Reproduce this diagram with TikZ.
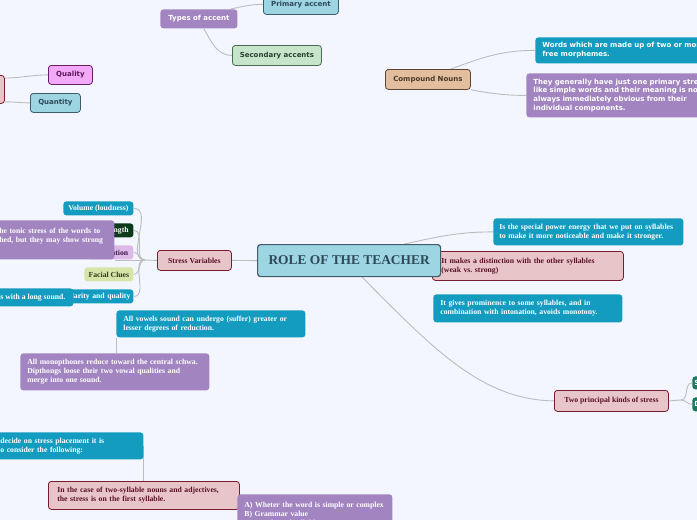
\documentclass[tikz,border=0pt]{standalone}
\usepackage{fontspec}
\setmainfont{Liberation Serif}
\newfontfamily\vsans{DejaVu Sans}
\hyphenpenalty=10000
\exhyphenpenalty=10000
\frenchspacing
\pgfdeclarelayer{background}
\pgfsetlayers{background,main}
\definecolor{bg}{HTML}{F3F6FE}
\definecolor{cteal}{HTML}{139CBF}
\definecolor{cpurp}{HTML}{A285C0}
\definecolor{cpink}{HTML}{E8C5C9}
\definecolor{cpinkd}{HTML}{7A1C30}
\definecolor{cpinkt}{HTML}{5A1024}
\definecolor{clb}{HTML}{9DD5E2}
\definecolor{clbd}{HTML}{3E5C6C}
\definecolor{clbt}{HTML}{2E4858}
\definecolor{cgr}{HTML}{C6E5CA}
\definecolor{cgrd}{HTML}{4C6A52}
\definecolor{cgrt}{HTML}{2A4030}
\definecolor{ctan}{HTML}{E2BE9E}
\definecolor{ctand}{HTML}{5A4633}
\definecolor{ctant}{HTML}{4A3828}
\definecolor{cmag}{HTML}{F2A9F7}
\definecolor{cmagd}{HTML}{6A1C6A}
\definecolor{cmagt}{HTML}{5A165A}
\definecolor{clav}{HTML}{DDB9E7}
\definecolor{clavt}{HTML}{3C1848}
\definecolor{cyg}{HTML}{D8E5A9}
\definecolor{cygt}{HTML}{2E3A1A}
\definecolor{cdg}{HTML}{0C3A1B}
\definecolor{ctg}{HTML}{177A5F}
\definecolor{cline}{HTML}{BDBDBD}
\begin{document}
\begin{tikzpicture}[x=1pt,y=-1pt,
  conn/.style={draw=cline, line width=0.9pt},
  bx/.style={rounded corners=3pt, inner xsep=7pt, inner ysep=0pt, anchor=north west,
    line width=0.8pt, font=\fontsize{7.7}{9}\selectfont\bfseries},
  sbx/.style={bx, font=\vsans\fontsize{7}{8.7}\selectfont\bfseries},
  wh/.style 2 args={minimum width=#1pt, minimum height=#2pt},
  tw/.style={text width=#1pt, align=left},
  tealbox/.style={fill=cteal, text=white},
  purpbox/.style={fill=cpurp, text=white},
  pinkbox/.style={fill=cpink, draw=cpinkd, text=cpinkt},
  lbbox/.style={fill=clb, draw=clbd, text=clbt},
]
\useasboundingbox (0,0) rectangle (697,520);

% ---- top left
\node[sbx, purpbox, wh={77}{19}] (toa) at (160,9) {Types of accent};
\node[sbx, lbbox, wh={75}{20}] (pa) at (263,-6) {Primary accent};
\node[sbx, fill=cgr, draw=cgrd, text=cgrt, wh={89}{20}] (sa) at (232,45) {Secondary accents};
\node[bx, pinkbox, wh={44}{28}] (lc) at (-40,75) {};
\node[sbx, fill=cmag, draw=cmagd, text=cmagt, wh={44}{19}] (qual) at (48,65) {Quality};
\node[sbx, lbbox, wh={50}{19}] (quan) at (30,93) {Quantity};

% ---- compound nouns
\node[sbx, fill=ctan, draw=ctand, text=ctant, wh={85}{20}] (cn) at (385,69) {Compound Nouns};
\node[sbx, tealbox, wh={200}{26}, tw={186}] (wm) at (535,37) {Words which are made up of two or more\\free morphemes.};
\node[sbx, purpbox, wh={200}{44}, tw={186}] (tg) at (526,73) {They generally have just one primary stress\\like simple words and their meaning is not\\always immediately obvious from their\\individual components.};

% ---- central
\node[bx, pinkbox, wh={191}{29}, inner xsep=9pt, tw={173}] (md) at (432,251) {It makes a distinction with the other syllables\\(weak vs. strong)};
\node[bx, lbbox, line width=1.2pt, wh={183}{32}, font=\fontsize{13.4}{15}\selectfont\bfseries] (role) at (257,244) {ROLE OF THE TEACHER};
\node[bx, tealbox, wh={190}{27}, inner xsep=6pt, tw={178}] (ip) at (493,218) {Is the special power energy that we put on syllables\\to make it more noticeable and make it stronger.};
\node[bx, tealbox, wh={189}{28}, tw={175}] (gp) at (433,294) {It gives prominence to some syllables, and in\\combination with intonation, avoids monotony.};

% ---- two principal kinds
\node[bx, pinkbox, wh={114}{21}, inner xsep=3pt] (tp) at (554,390) {Two principal kinds of stress};
\node[sbx, fill=ctg, text=white, wh={30}{13}, inner xsep=2pt, tw={26}] (ts1) at (692,376) {S};
\node[sbx, fill=ctg, text=white, wh={30}{14}, inner xsep=2pt, tw={26}] (ts2) at (692,397) {D};

% ---- stress variables
\node[bx, pinkbox, wh={74}{20}, inner xsep=3pt] (sv) at (157,250) {Stress Variables};
\node[bx, tealbox, wh={70}{14}, inner xsep=2pt] (vol) at (63,201) {Volume (loudness)};
\node[bx, fill=cdg, text=white, wh={33}{14}, inner xsep=2pt] (len) at (100,223) {Length};
\node[bx, fill=clav, text=clavt, wh={45}{14}, inner xsep=2pt] (into) at (88,245) {Intonation};
\node[bx, fill=cyg, text=cygt, wh={49}{14}, inner xsep=2pt] (fc) at (84,267) {Facial Clues};
\node[bx, tealbox, wh={75}{14}, inner xsep=3pt, text width=69pt, align=right] (clar) at (58,289) {Clarity and quality};
\node[bx, purpbox, wh={123}{39}, inner xsep=8pt, tw={107}] (pb) at (-9,220) {he tonic stress of the words to\\hed, but they may show strong\\\mbox{}};
\node[bx, tealbox, wh={81}{18}, inner xsep=2pt] (lsb) at (-8,288) {s with a long sound.};

% ---- lower left
\node[bx, tealbox, wh={189}{27}, tw={175}] (av) at (116,310) {All vowels sound can undergo (suffer) greater or\\lesser degrees of reduction.};
\node[bx, purpbox, wh={189}{37}, tw={175}] (am) at (20,353) {All monopthones reduce toward the central schwa.\\Dipthongs loose their two vowal qualities and\\merge into one sound.};
\node[bx, tealbox, wh={150}{27}, tw={136}] (dc) at (-7,432) {decide on stress placement it is\\o consider the following:};
\node[bx, pinkbox, wh={191}{28}, inner xsep=9pt, tw={173}] (ic) at (48,481) {In the case of two-syllable nouns and adjectives,\\the stress is on the first syllable.};
\node[bx, purpbox, wh={155}{40}, inner xsep=7pt, tw={141}] (ab) at (237,494) {A) Wheter the word is simple or complex\\B) Grammar value\\C) Number of syllables};

\begin{pgfonlayer}{background}
\fill[bg] (-50,-50) rectangle (760,580);
% top left
\draw[conn] ([xshift=-7pt]toa.north east) to[out=12,in=180] (pa.west);
\draw[conn] ([xshift=5pt]toa.south) to[out=-60,in=180] (sa.west);
\draw[conn] ([yshift=-3pt]lc.north east) to[out=0,in=180] (qual.west);
\draw[conn] ([yshift=2pt]lc.south east) to[out=0,in=180] (quan.west);
% compound
\draw[conn] ([xshift=-20pt]cn.north east) to[out=20,in=180] (wm.west);
\draw[conn] (cn.south east) to[out=-10,in=180] (tg.west);
% central
\draw[conn] ([xshift=-37pt]role.north east) to[out=12,in=180] (ip.west);
\draw[conn] (sv.east) -- (role.west);
\draw[conn] ([xshift=13pt]role.south) .. controls (430,345) and (480,400) .. (tp.west);
\coordinate (tpf) at (681,400);
\draw[conn] (tp.east) -- (tpf);
\draw[conn] (tpf) to[out=0,in=180] (ts1.west);
\draw[conn] (tpf) to[out=0,in=180] (ts2.west);
% stress variables fan
\coordinate (svf) at (145,260);
\draw[conn] (sv.west) -- (svf);
\draw[conn] (svf) -- (svf -| pb.east);
\foreach \n in {vol,len,into,fc,clar}
  \draw[conn] (svf) to[out=180,in=0] (\n.east);
% lower left
\draw[conn] (av.south west) -- (av.south west |- am.north);
\draw[conn] (dc.east) -- (dc.east |- ic.north);
\end{pgfonlayer}
\end{tikzpicture}
\end{document}
